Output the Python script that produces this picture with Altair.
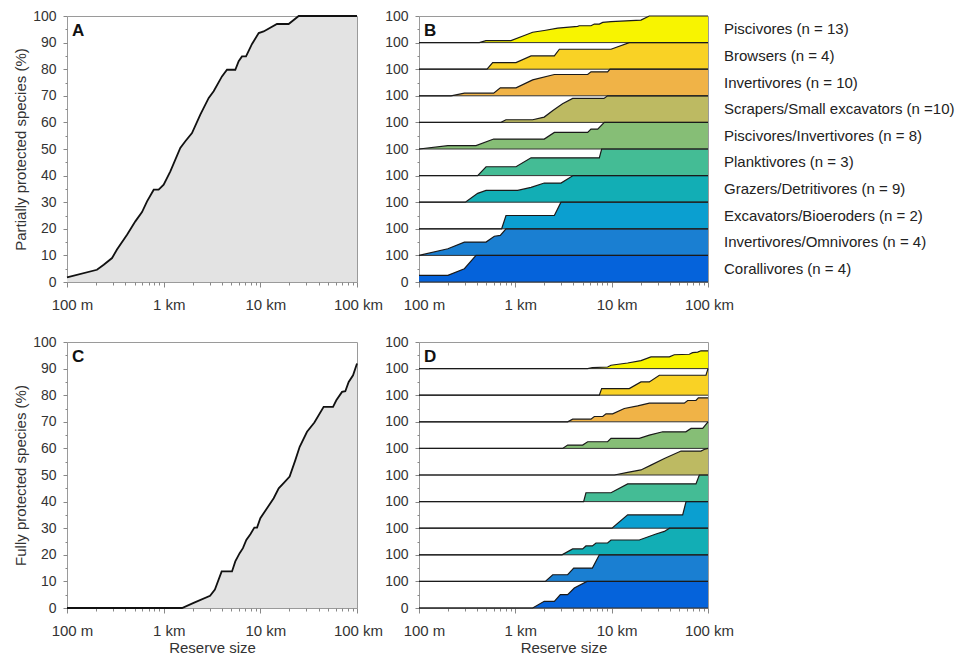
import altair as alt
import pandas as pd

FONT = "Liberation Sans"

# ---------------- axes / ticks ----------------
X_DOMAIN_KM = [0.1, 100]
X_TICKS_KM = [0.1, 0.2, 0.3, 0.4, 0.5, 0.6, 0.7, 0.8, 0.9,
              1, 2, 3, 4, 5, 6, 7, 8, 9,
              10, 20, 30, 40, 50, 60, 70, 80, 90, 100]
X_MAJOR_KM = [0.1, 1, 10, 100]
X_MAJOR_LABELS = ["100 m", "1 km", "10 km", "100 km"]
Y_TICKS = [0, 5, 10, 15, 20, 25, 30, 35, 40, 45, 50, 55, 60, 65, 70, 75, 80, 85, 90, 95, 100]

# ---------------- panel A (partially protected, all species) ----------------
A_LOGKM = [-1, -0.69, -0.62, -0.534, -0.483, -0.379, -0.293, -0.224, -0.172, -0.103,
           -0.052, 0.0, 0.069, 0.172, 0.224, 0.293, 0.379, 0.466, 0.517, 0.603,
           0.655, 0.741, 0.776, 0.81, 0.852, 0.914, 0.983, 1.034, 1.172, 1.293,
           1.397, 2.0]
A_PCT = [1.75, 4.6, 6.5, 9.0, 12.2, 17.8, 22.8, 26.3, 30.3, 34.7,
         34.7, 36.6, 41.6, 50.4, 52.9, 56.0, 62.9, 69.2, 71.7, 77.3,
         79.8, 79.8, 83.0, 84.8, 84.8, 89.5, 93.6, 94.2, 97.0, 97.0,
         100, 100]

# ---------------- panel C (fully protected, all species) ----------------
C_LOGKM = [-1, 0.19, 0.31, 0.48, 0.53, 0.60, 0.707, 0.741, 0.786, 0.82,
           0.855, 0.897, 0.938, 0.966, 1.0, 1.069, 1.138, 1.19, 1.248, 1.303,
           1.362, 1.407, 1.483, 1.559, 1.655, 1.752, 1.786, 1.845, 1.879, 1.914,
           1.959, 2.0]
C_PCT = [0, 0, 1.9, 4.6, 6.9, 13.75, 13.75, 17.5, 20.6, 22.5,
         25.6, 27.75, 30.25, 30.25, 33.75, 37.5, 41.25, 45, 47.25, 49.4,
         55.6, 60.6, 66.25, 69.75, 75.6, 75.6, 78.1, 81.25, 81.5, 85,
         87.5, 91.9]

# ---------------- groups (top to bottom) ----------------
GROUP_LABELS = ["Piscivores (n = 13)", "Browsers (n = 4)", "Invertivores (n = 10)",
                "Scrapers/Small excavators (n =10)", "Piscivores/Invertivores (n = 8)",
                "Planktivores (n = 3)", "Grazers/Detritivores (n = 9)",
                "Excavators/Bioeroders (n = 2)", "Invertivores/Omnivores (n = 4)",
                "Corallivores (n = 4)"]
B_COLORS = ["#F8F400", "#F9D225", "#F0B347", "#BDBA62", "#86BE76",
            "#44BC95", "#12AEB5", "#0B9FD0", "#1A7FD2", "#0563DB"]
D_COLORS = ["#F8F400", "#F9D225", "#F0B347", "#86BE76", "#BDBA62",
            "#44BC95", "#0B9FD0", "#12AEB5", "#1A7FD2", "#0563DB"]

# ---------------- panel B curves (log10 km, % of group) ----------------
B01_LOGKM = [-1, -0.374, -0.305, -0.045, 0.093, 0.18, 0.30, 0.44, 0.647, 0.664, 0.785, 0.82, 0.872, 0.907, 0.993, 1.304, 1.39, 2]
B01_PCT = [0, 0, 7.6, 7.6, 26.6, 39, 45.6, 54.4, 60.8, 63.3, 63.3, 69.6, 69.6, 76, 78.5, 84.8, 100, 100]
B02_LOGKM = [-1, -0.294, -0.235, 0.007, 0.163, 0.405, 0.457, 0.993, 1.183, 2]
B02_PCT = [0, 0, 25, 25, 50, 50, 75, 75, 100, 100]
B03_LOGKM = [-1, -0.668, -0.529, -0.225, -0.156, 0.007, 0.18, 0.405, 0.751, 0.785, 0.958, 0.983, 2]
B03_PCT = [0, 0, 10, 10, 30, 30, 60, 80, 80, 90, 90, 100, 100]
B04_LOGKM = [-1, -0.149, -0.097, 0.18, 0.30, 0.39, 0.49, 0.595, 0.92, 0.958, 2]
B04_PCT = [0, 0, 10, 10, 20, 45, 70, 90, 90, 100, 100]
B05_LOGKM = [-1, -0.70, -0.408, -0.225, 0.30, 0.405, 0.751, 0.785, 0.855, 0.924, 2]
B05_PCT = [0, 12.5, 12.5, 37.5, 37.5, 62.5, 62.5, 75, 75, 100, 100]
B06_LOGKM = [-1, -0.391, -0.304, 0.007, 0.163, 0.872, 0.896, 2]
B06_PCT = [0, 0, 33.3, 33.3, 66.7, 66.7, 100, 100]
B07_LOGKM = [-1, -0.519, -0.391, -0.304, 0.024, 0.163, 0.30, 0.474, 0.60, 2]
B07_PCT = [0, 0, 33.3, 44.4, 44.4, 55.6, 72, 72, 100, 100]
B08_LOGKM = [-1, -0.142, -0.097, 0.405, 0.474, 2]
B08_PCT = [0, 0, 50, 50, 100, 100]
B09_LOGKM = [-1, -0.70, -0.529, -0.304, -0.218, -0.156, -0.097, 2]
B09_PCT = [0, 25, 50, 50, 72, 75, 100, 100]
B10_LOGKM = [-1, -0.70, -0.529, -0.408, 2]
B10_PCT = [25, 25, 50, 100, 100]

# ---------------- panel D curves ----------------
D01_LOGKM = [-1, 0.751, 0.80, 0.958, 0.993, 1.166, 1.304, 1.408, 1.599, 1.65, 1.806, 1.84, 1.893, 1.927, 2]
D01_PCT = [0, 0, 4, 6, 12.5, 21, 30, 44, 44, 52, 54, 60, 62, 67, 67]
D02_LOGKM = [-1, 0.872, 0.896, 1.183, 1.304, 1.391, 1.495, 1.979, 2]
D02_PCT = [0, 0, 25, 25, 50, 50, 75, 75, 100]
D03_LOGKM = [-1, 0.543, 0.595, 0.785, 0.82, 0.907, 0.941, 1.01, 1.131, 1.27, 1.391, 1.754, 1.789, 1.875, 1.90, 2]
D03_PCT = [0, 0, 10, 10, 20, 20, 30, 30, 50, 60, 70, 70, 80, 80, 90, 90]
D04_LOGKM = [-1, 0.491, 0.543, 0.699, 0.751, 0.958, 0.993, 1.287, 1.391, 1.53, 1.77, 1.824, 1.945, 2]
D04_PCT = [0, 0, 12.5, 12.5, 25, 25, 37.5, 37.5, 50, 62.5, 62.5, 75, 75, 100]
D05_LOGKM = [-1, 1.028, 1.166, 1.304, 1.408, 1.547, 1.72, 1.927, 1.96, 2]
D05_PCT = [0, 0, 10, 19, 37, 62, 90, 90, 96, 100]
D06_LOGKM = [-1, 0.709, 0.733, 0.993, 1.166, 1.875, 1.91, 2]
D06_PCT = [0, 0, 33.3, 33.3, 66.7, 66.7, 100, 100]
D07_LOGKM = [-1, 1.003, 1.166, 1.737, 1.772, 2]
D07_PCT = [0, 0, 50, 50, 100, 100]
D08_LOGKM = [-1, 0.484, 0.595, 0.699, 0.733, 0.80, 0.837, 0.958, 0.993, 1.287, 1.46, 1.547, 1.6, 2]
D08_PCT = [0, 0, 22.2, 22.2, 33.3, 33.3, 44.4, 44.4, 55.6, 55.6, 78, 88, 100, 100]
D09_LOGKM = [-1, 0.311, 0.388, 0.543, 0.606, 0.80, 0.872, 2]
D09_PCT = [0, 0, 25, 25, 50, 50, 100, 100]
D10_LOGKM = [-1, 0.18, 0.30, 0.405, 0.467, 0.543, 0.612, 0.744, 2]
D10_PCT = [0, 0, 25, 25, 50, 50, 75, 100, 100]

B_CURVES = [(B01_LOGKM, B01_PCT), (B02_LOGKM, B02_PCT), (B03_LOGKM, B03_PCT),
            (B04_LOGKM, B04_PCT), (B05_LOGKM, B05_PCT), (B06_LOGKM, B06_PCT),
            (B07_LOGKM, B07_PCT), (B08_LOGKM, B08_PCT), (B09_LOGKM, B09_PCT),
            (B10_LOGKM, B10_PCT)]
D_CURVES = [(D01_LOGKM, D01_PCT), (D02_LOGKM, D02_PCT), (D03_LOGKM, D03_PCT),
            (D04_LOGKM, D04_PCT), (D05_LOGKM, D05_PCT), (D06_LOGKM, D06_PCT),
            (D07_LOGKM, D07_PCT), (D08_LOGKM, D08_PCT), (D09_LOGKM, D09_PCT),
            (D10_LOGKM, D10_PCT)]

PW, PH = 290, 266

# one shared colour scale for both ridge panels (keys b0..b9, d0..d9)
COLOR_KEYS = [f"b{k}" for k in range(10)] + [f"d{k}" for k in range(10)]
COLOR_SCALE = alt.Scale(domain=COLOR_KEYS, range=B_COLORS + D_COLORS)

# ---------------- helpers ----------------
x_label_expr = " : ".join(
    f"datum.value == {v} ? '{l}'" for v, l in zip(X_MAJOR_KM, X_MAJOR_LABELS)) + " : ''"
x_major_test = " || ".join(f"datum.value == {v}" for v in X_MAJOR_KM)
XSCALE = alt.Scale(type="log", domain=X_DOMAIN_KM, nice=False)
YSCALE = alt.Scale(domain=[0, 100], nice=False, zero=True)


def x_axis(title):
    return alt.Axis(values=X_TICKS_KM, labelExpr=x_label_expr, labelFlush=False,
                    labelOverlap=False, labelFontSize=15, labelPadding=10,
                    labelOffset={"condition": {"test": "datum.value == 100", "value": 1}, "value": 5},
                    tickSize={"condition": {"test": x_major_test, "value": 5}, "value": 3},
                    titlePadding=2, titleFontSize=15, title=title)


def y_axis(title, expr):
    return alt.Axis(values=Y_TICKS, labelExpr=expr,
                    tickSize={"condition": {"test": "datum.value % 10 == 0", "value": 4}, "value": 2},
                    labelPadding=7, titlePadding=4, labelFontSize=14, titleFontSize=15,
                    title=title)


def letter(t):
    return alt.Chart(pd.DataFrame({"t": [t]})).mark_text(
        align="left", baseline="alphabetic", font=FONT, fontSize=17, fontWeight="bold",
        color="#111").encode(x=alt.value(5), y=alt.value(20), text="t:N")


def single_panel(logs, pcts, ytitle, letter_t, xtitle):
    df = pd.DataFrame({"km": [10 ** v for v in logs], "pct": pcts,
                       "i": list(range(len(logs)))})
    base = alt.Chart(df).encode(
        x=alt.X("km:Q", scale=XSCALE, axis=x_axis(xtitle)),
        y=alt.Y("pct:Q", scale=YSCALE,
                axis=y_axis(ytitle, "datum.value % 10 == 0 ? datum.label : ''")))
    area = base.mark_area(color="#E3E3E3")
    line = base.mark_line(color="#111", strokeWidth=1.8).encode(order="i:Q")
    return alt.layer(area, line, letter(letter_t)).properties(width=PW, height=PH)


def ridge_panel(curves, prefix, letter_t, xtitle, with_labels):
    rows = []
    for k, (logs, pcts) in enumerate(curves):
        b = (9 - k) * 10
        for i, (lx, p) in enumerate(zip(logs, pcts)):
            rows.append({"g": f"{prefix}{k}", "km": 10 ** lx, "top": b + p / 10.0,
                         "base": b, "i": i})
    df = pd.DataFrame(rows)
    yax = y_axis(None, "datum.value == 0 ? '0' : (datum.value % 10 == 0 ? '100' : '')")
    base = alt.Chart(df).encode(
        x=alt.X("km:Q", scale=XSCALE, axis=x_axis(xtitle)),
        y=alt.Y("top:Q", scale=YSCALE, axis=yax, stack=None))
    areas = base.mark_area(opacity=1).encode(
        y2="base:Q",
        color=alt.Color("g:N", scale=COLOR_SCALE, legend=None))
    lines = base.mark_line(color="#1a1a1a", strokeWidth=1.2).encode(detail="g:N", order="i:Q")
    bases = pd.DataFrame({"bl": [0, 10, 20, 30, 40, 50, 60, 70, 80, 90]})
    rules = alt.Chart(bases).mark_rule(color="#333", strokeWidth=1).encode(
        y=alt.Y("bl:Q", scale=YSCALE, axis=yax))
    layers = [areas, rules, lines, letter(letter_t)]
    if with_labels:
        lab = pd.DataFrame({"label": GROUP_LABELS, "yc": [95 - 10 * k for k in range(10)]})
        layers.append(alt.Chart(lab).mark_text(
            align="left", baseline="middle", font=FONT, fontSize=15, color="#222").encode(
            x=alt.value(305), y=alt.Y("yc:Q", scale=YSCALE, axis=yax), text="label:N"))
    return alt.layer(*layers).properties(width=289, height=PH)


A = single_panel(A_LOGKM, A_PCT, "Partially protected species (%)", "A", None)
B = ridge_panel(B_CURVES, "b", "B", None, True)
C = single_panel(C_LOGKM, C_PCT, "Fully protected species (%)", "C", "Reserve size")
D = ridge_panel(D_CURVES, "d", "D", "Reserve size", False)

top = alt.hconcat(A, B, spacing=0)
bottom = alt.hconcat(C, D, spacing=0)
chart = alt.vconcat(top, bottom, spacing=21).properties(
    padding={"left": 5, "top": 0, "right": 0, "bottom": 0}
).configure_axis(
    labelFont=FONT, titleFont=FONT, labelColor="#333", titleColor="#333",
    tickColor="#888", domain=False, grid=False, titleFontWeight="normal"
).configure_view(stroke="#9a9a9a", strokeWidth=1)

chart.save("out.html", embed_options={"renderer": "svg", "actions": False})
